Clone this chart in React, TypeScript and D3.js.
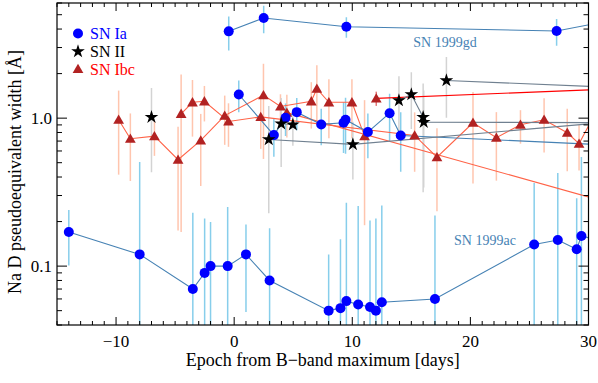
import * as d3 from 'd3'

// [epoch (days), Na D width (Å), 1-sigma error]
type Pt = [number, number, number]

const sn1999gd: Pt[] = [
  [-0.46, 3.86, 1.0], [2.5, 4.75, 1.0], [9.5, 4.15, 0.65], [27.3, 3.88, 0.8], [35, 5.1, 0.8],
]

const sn1999ac: Pt[] = [
  [-14.0, 0.17, 0.069], [-8.0, 0.12, 0.385], [-3.5, 0.07, 0.159], [-2.5, 0.09, 0.12],
  [-2.0, 0.1, 0.099], [-0.55, 0.1, 0.151], [1.0, 0.12, 0.071], [3.0, 0.08, 0.1],
  [8.0, 0.05, 0.07], [9.0, 0.052, 0.1], [9.5, 0.058, 0.21], [10.5, 0.055, 0.2],
  [11.5, 0.053, 0.15], [12.0, 0.05, 0.16], [12.5, 0.057, 0.2], [17.0, 0.06, 0.16],
  [25.4, 0.14, 0.225], [27.4, 0.15, 0.276], [29.0, 0.13, 0.157], [29.4, 0.16, 0.386],
  [31.5, 0.145, 0.2],
]

const snIaOther: Pt[] = [
  [0.39, 1.445, 0.35], [3.36, 0.768, 0.22], [4.35, 1.006, 0.25], [5.3, 1.098, 0.27],
  [7.37, 0.907, 0.25], [9.26, 0.931, 0.35], [9.43, 0.975, 0.4], [11.32, 0.805, 0.27],
  [13.16, 1.08, 0.38], [14.1, 0.764, 0.33], [35, 0.64, 0.2],
]

const snIIa: Pt[] = [[-7.0, 1.016, 0.585]]
const snIIb: Pt[] = [[2.93, 0.718, 0.49], [10.05, 0.665, 0.28], [35, 0.99, 0.3]]
const snIIc: Pt[] = [[3.98, 0.917, 0.45], [4.97, 0.902, 0.25]]
const snIId: Pt[] = [
  [13.95, 1.316, 0.6], [15.0, 1.445, 0.6], [16.0, 1.016, 0.7], [16.05, 0.94, 0.6], [35, 0.93, 0.3],
]
const snIIe: Pt[] = [[17.97, 1.795, 0.79], [35, 1.58, 0.5]]

const snIbcA: Pt[] = [
  [-9.78, 0.975, 0.56], [-8.79, 0.726, 0.35], [-6.75, 0.756, 0.2], [-4.75, 0.524, 0.35],
  [-2.83, 0.708, 0.36], [-0.8, 1.04, 0.38], [2.48, 1.43, 0.9], [3.92, 1.2, 0.25],
  [6.53, 1.3, 0.45], [7.0, 1.58, 0.7], [8.02, 1.28, 0.55], [9.97, 1.28, 0.55],
  [11.04, 0.756, 0.567],
]
const snIbcB: Pt[] = [
  [-4.49, 1.07, 0.9], [-3.53, 1.28, 0.53], [-2.52, 1.3, 0.35], [-0.48, 0.95, 0.31],
  [2.25, 1.02, 0.4], [15.28, 0.764, 0.33], [17.17, 0.545, 0.31], [20.22, 0.931, 0.57],
  [22.2, 0.738, 0.36], [24.24, 0.902, 0.23], [26.24, 0.975, 0.39], [28.2, 0.797, 0.36],
  [29.2, 0.672, 0.23], [31, 1.25, 0.3],
]
const snIbcC: Pt[] = [[4.46, 1.09, 0.35], [35, 0.227, 0.1]]
const snIbcD: Pt[] = [[12.03, 1.36, 0.15], [40, 1.67, 0.2]]

const xTickLabels = [-10, 0, 10, 20, 30]
const yTickLabels = [0.1, 1.0]

const styles = {
  Ia: { marker: 'circle', fill: '#0000ff', line: '#4682b4', err: '#87ceeb' },
  II: { marker: 'star', fill: '#000000', line: '#708090', err: '#d3d3d3' },
  Ibc: { marker: 'triangle', fill: '#b22222', line: '#ff6347', err: '#ffa07a' },
}

const series = [
  { data: snIbcA, type: 'Ibc' },
  { data: snIbcB, type: 'Ibc' },
  { data: snIbcC, type: 'Ibc' },
  { data: snIbcD, type: 'Ibc', line: '#ff0000', err: '#d02020' },
  { data: sn1999gd, type: 'Ia' },
  { data: sn1999ac, type: 'Ia' },
  { data: snIaOther, type: 'Ia' },
  { data: snIIa, type: 'II' },
  { data: snIIb, type: 'II' },
  { data: snIIc, type: 'II' },
  { data: snIId, type: 'II' },
  { data: snIIe, type: 'II' },
]

const W = 598
const H = 383
const box = { left: 57, right: 588.5, top: 3, bottom: 325 }
const FONT = "'Liberation Serif', 'Times New Roman', 'DejaVu Serif', serif"

export default function App() {
  const x = d3.scaleLinear().domain([-15, 30]).range([box.left, box.right])
  const y = d3.scaleLog().domain([0.04, 6]).range([box.bottom, box.top])
  const line = d3.line<Pt>().x((d) => x(d[0])).y((d) => y(d[1]))

  const starPath = d3.symbol().type(d3.symbolStar).size(58)()
  const triPath = d3.symbol().type(d3.symbolTriangle).size(50)()

  const marker = (kind: string, cx: number, cy: number, fill: string, key: string | number) => {
    if (kind === 'circle') return <circle key={key} cx={cx} cy={cy} r={5} fill={fill} />
    const p = kind === 'star' ? starPath : triPath
    return <path key={key} d={p} transform={`translate(${cx},${cy + (kind === 'triangle' ? 1 : 0)})`} fill={fill} />
  }

  const xMinor = d3.range(-15, 31, 1)
  const yMinor: number[] = []
  for (const dec of [0.01, 0.1, 1]) for (let k = 1; k <= 9; k++) {
    const v = +(k * dec).toFixed(3)
    if (v >= 0.04 && v <= 6) yMinor.push(v)
  }

  return (
    <svg width={W} height={H} style={{ position: 'absolute', left: 0, top: 0, fontFamily: FONT }}>
      <defs>
        <clipPath id="plot">
          <rect x={box.left} y={box.top} width={box.right - box.left} height={box.bottom - box.top} />
        </clipPath>
      </defs>
      <rect width={W} height={H} fill="#fff" />

      <g clipPath="url(#plot)">
        {series.map((s, i) => {
          const st = styles[s.type as keyof typeof styles]
          return (
            <g key={'e' + i} stroke={s.err || st.err} strokeWidth={1.5} opacity={s.type === 'Ibc' ? 0.6 : 1}>
              {s.data.map((d, j) => (
                <line key={j} x1={x(d[0])} x2={x(d[0])} y1={y(d[1] + d[2])} y2={y(Math.max(d[1] - d[2], 0.02))} />
              ))}
            </g>
          )
        })}
        {series.map((s, i) => {
          const st = styles[s.type as keyof typeof styles]
          return <path key={'l' + i} d={line(s.data) || ''} fill="none" stroke={s.line || st.line} strokeWidth={1.1} />
        })}
        {series.map((s, i) => {
          const st = styles[s.type as keyof typeof styles]
          return <g key={'m' + i}>{s.data.map((d, j) => marker(st.marker, x(d[0]), y(d[1]), st.fill, j))}</g>
        })}
      </g>

      {/* frame and ticks */}
      <rect x={box.left} y={box.top} width={box.right - box.left} height={box.bottom - box.top} fill="none" stroke="#000" strokeWidth={1.2} />
      <g stroke="#000" strokeWidth={1}>
        {xMinor.map((v) => {
          const len = v % 10 === 0 ? 8 : 4
          return (
            <g key={'xt' + v}>
              <line x1={x(v)} x2={x(v)} y1={box.bottom} y2={box.bottom - len} />
              <line x1={x(v)} x2={x(v)} y1={box.top} y2={box.top + len} />
            </g>
          )
        })}
        {yMinor.map((v) => {
          const len = v === 0.1 || v === 1 ? 10 : 5
          return (
            <g key={'yt' + v}>
              <line x1={box.left} x2={box.left + len} y1={y(v)} y2={y(v)} />
              <line x1={box.right} x2={box.right - len} y1={y(v)} y2={y(v)} />
            </g>
          )
        })}
      </g>
      <g fontSize={17} fill="#000">
        {xTickLabels.map((v) => (
          <text key={v} x={x(v)} y={box.bottom + 22} textAnchor="middle">
            {v < 0 ? '\u2212' + Math.abs(v) : v}
          </text>
        ))}
        {yTickLabels.map((v) => (
          <text key={v} x={box.left - 5} y={y(v) + 6} textAnchor="end">
            {v.toFixed(1)}
          </text>
        ))}
      </g>
      <text x={(box.left + box.right) / 2} y={366} textAnchor="middle" fontSize={18}>
        Epoch from B{'\u2212'}band maximum [days]
      </text>
      <text transform={`translate(21,${(box.top + box.bottom) / 2 + 8}) rotate(-90)`} textAnchor="middle" fontSize={18}>
        Na D pseudoequivalent width [Å]
      </text>

      <text x={445} y={47} textAnchor="middle" fontSize={14} fill="#4682b4">SN 1999gd</text>
      <text x={485} y={245} textAnchor="middle" fontSize={14} fill="#4682b4">SN 1999ac</text>

      {/* legend */}
      <g fontSize={16}>
        {marker('circle', 78, 33.5, '#0000ff', 'lg1')}
        <text x={90} y={39} fill="#0000ff">SN Ia</text>
        {marker('star', 78, 51.5, '#000', 'lg2')}
        <text x={90} y={57} fill="#000">SN II</text>
        {marker('triangle', 78, 69, '#b22222', 'lg3')}
        <text x={90} y={75} fill="#ff0000">SN Ibc</text>
      </g>
    </svg>
  )
}
